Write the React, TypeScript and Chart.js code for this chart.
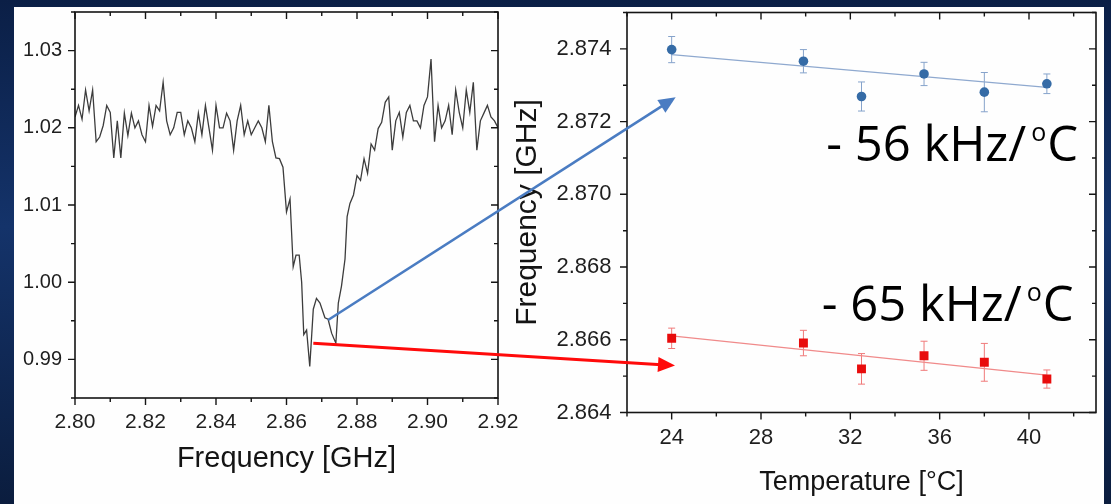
import React, { useEffect, useRef } from 'react';
import { Chart, registerables } from 'chart.js';

Chart.register(...registerables);

const AXIS_FONT = '"Liberation Sans", Arial, sans-serif';
const NOTE_FONT = '"Open Sans", "Noto Sans", sans-serif';

// ---------- Left panel: ODMR spectrum ----------
const specFreq = [
  2.800, 2.801, 2.802, 2.803, 2.804, 2.805, 2.806, 2.807, 2.808, 2.809,
  2.810, 2.811, 2.812, 2.813, 2.814, 2.815, 2.816, 2.817, 2.818, 2.819,
  2.820, 2.821, 2.822, 2.823, 2.824, 2.825, 2.826, 2.827, 2.828, 2.829,
  2.830, 2.831, 2.832, 2.833, 2.834, 2.835, 2.836, 2.837, 2.838, 2.839,
  2.840, 2.841, 2.842, 2.843, 2.844, 2.845, 2.846, 2.847, 2.848, 2.849,
  2.850, 2.851, 2.852, 2.853, 2.854, 2.855, 2.856, 2.857, 2.858, 2.859,
  2.860, 2.861,
  2.8619, 2.8627, 2.8636, 2.8643, 2.8649, 2.8657, 2.8666, 2.8676, 2.8685, 2.8695,
  2.8709, 2.8718, 2.8728, 2.8740, 2.8747, 2.8756, 2.8766, 2.8772,
  2.878, 2.879, 2.880, 2.881, 2.882, 2.883, 2.884, 2.885, 2.886, 2.887,
  2.888, 2.889, 2.890, 2.891, 2.892, 2.893, 2.894, 2.895, 2.896, 2.897,
  2.898, 2.899, 2.900, 2.901, 2.902, 2.903, 2.904, 2.905, 2.906, 2.907,
  2.908, 2.909, 2.910, 2.911, 2.912, 2.913, 2.914, 2.915, 2.916, 2.917,
  2.918, 2.919, 2.920,
];
const specSignal = [
  1.0214, 1.0229, 1.0211, 1.0249, 1.0222, 1.0249, 1.0182, 1.0188, 1.0203, 1.0229,
  1.0220, 1.0161, 1.0209, 1.0161, 1.0219, 1.0190, 1.0219, 1.0200, 1.0209, 1.0191,
  1.0182, 1.0229, 1.0202, 1.0229, 1.0222, 1.0259, 1.0209, 1.0191, 1.0200, 1.0220,
  1.0220, 1.0191, 1.0209, 1.0200, 1.0182, 1.0219, 1.0191, 1.0229, 1.0200, 1.0171,
  1.0229, 1.0200, 1.0200, 1.0219, 1.0209, 1.0171, 1.0209, 1.0229, 1.0191, 1.0209,
  1.0191, 1.0200, 1.0209, 1.0200, 1.0182, 1.0229, 1.0182, 1.0161, 1.0160, 1.0149,
  1.0091, 1.0108,
  1.0020, 1.0035, 1.0035, 1.0000, 0.9932, 0.9938, 0.9891, 0.9965, 0.9979, 0.9973,
  0.9954, 0.9952, 0.9934, 0.9921, 0.9973, 0.9995, 1.0030, 1.0085,
  1.0102, 1.0113, 1.0138, 1.0132, 1.0160, 1.0141, 1.0179, 1.0171, 1.0199, 1.0207,
  1.0233, 1.0240, 1.0171, 1.0209, 1.0220, 1.0188, 1.0220, 1.0229, 1.0209, 1.0209,
  1.0200, 1.0229, 1.0240, 1.0289, 1.0182, 1.0229, 1.0200, 1.0209, 1.0229, 1.0191,
  1.0249, 1.0220, 1.0200, 1.0249, 1.0220, 1.0259, 1.0171, 1.0209, 1.0219, 1.0229,
  1.0214, 1.0209, 1.0200,
];
const specXTicks = [2.80, 2.82, 2.84, 2.86, 2.88, 2.90, 2.92];
const specYTicks = [0.99, 1.00, 1.01, 1.02, 1.03];

// ---------- Right panel: frequency vs temperature ----------
const tempC = [24.0, 29.9, 32.5, 35.3, 38.0, 40.8];
const freqUpper = [2.87398, 2.87366, 2.87269, 2.87331, 2.87281, 2.87304];
const errUpper = [0.00036, 0.00032, 0.00040, 0.00032, 0.00054, 0.00027];
const freqLower = [2.86604, 2.86591, 2.86520, 2.86556, 2.86538, 2.86492];
const errLower = [0.00028, 0.00035, 0.00042, 0.00040, 0.00052, 0.00025];
const fitTemp = [24.0, 40.8];
const fitUpper = [2.87384, 2.87294];
const fitLower = [2.86611, 2.86503];
const tempXTicks = [24, 28, 32, 36, 40];
const tempYTicks = [2.864, 2.866, 2.868, 2.870, 2.872, 2.874];
const slopeText = ['- 56 kHz/', '- 65 kHz/'];

// arrows: from a point of the spectrum (left) to a point of the right plot
const arrowFrom = [[2.8718, 0.9951], [2.8676, 0.9921]];
const arrowTo = [[24.18, 2.87267], [24.15, 2.86529]];
const arrowColors = ['#4a7cc2', '#ff0a0a'];

function noPad(s: any) {
  s.paddingTop = 0;
  s.paddingBottom = 0;
  s.paddingLeft = 0;
  s.paddingRight = 0;
}

function frameTicks(xMinor: number, xMajor: number, yMinor: number, yMajor: number) {
  const isMajor = (v: number, m: number) => Math.abs(v / m - Math.round(v / m)) < 1e-6;
  return {
    id: 'frameTicks',
    afterDraw(chart: any) {
      const { ctx, chartArea: a, scales } = chart;
      const sx = scales.x;
      const sy = scales.y;
      ctx.save();
      ctx.strokeStyle = '#151515';
      ctx.lineWidth = 1.6;
      ctx.strokeRect(a.left, a.top, a.right - a.left, a.bottom - a.top);
      ctx.lineWidth = 1.4;
      ctx.beginPath();
      for (let k = Math.ceil(sx.min / xMinor - 1e-6); k * xMinor <= sx.max + 1e-9; k++) {
        const v = k * xMinor;
        const len = isMajor(v, xMajor) ? 7 : 4;
        const p = sx.getPixelForValue(v);
        ctx.moveTo(p, a.bottom);
        ctx.lineTo(p, a.bottom + len);
        ctx.moveTo(p, a.top);
        ctx.lineTo(p, a.top + len);
      }
      for (let k = Math.ceil(sy.min / yMinor - 1e-6); k * yMinor <= sy.max + 1e-9; k++) {
        const v = k * yMinor;
        const len = isMajor(v, yMajor) ? 7 : 4;
        const p = sy.getPixelForValue(v);
        ctx.moveTo(a.left, p);
        ctx.lineTo(a.left - len, p);
        ctx.moveTo(a.right, p);
        ctx.lineTo(a.right - len, p);
      }
      ctx.stroke();
      ctx.restore();
    },
  };
}

const errorBars = {
  id: 'errorBars',
  beforeDatasetsDraw(chart: any) {
    const { ctx, scales } = chart;
    const sets = [
      { v: freqUpper, e: errUpper, c: '#86a3cb' },
      { v: freqLower, e: errLower, c: '#f07a7a' },
    ];
    ctx.save();
    ctx.lineWidth = 1;
    sets.forEach((s) => {
      ctx.strokeStyle = s.c;
      ctx.beginPath();
      tempC.forEach((t, i) => {
        const x = scales.x.getPixelForValue(t);
        const y0 = scales.y.getPixelForValue(s.v[i] - s.e[i]);
        const y1 = scales.y.getPixelForValue(s.v[i] + s.e[i]);
        ctx.moveTo(x, y0);
        ctx.lineTo(x, y1);
        ctx.moveTo(x - 3.5, y0);
        ctx.lineTo(x + 3.5, y0);
        ctx.moveTo(x - 3.5, y1);
        ctx.lineTo(x + 3.5, y1);
      });
      ctx.stroke();
    });
    ctx.restore();
  },
};

const slopeNotes = {
  id: 'slopeNotes',
  afterDraw(chart: any) {
    const { ctx, scales } = chart;
    const anchors = [
      { x: 42.2, y: 2.87093 },
      { x: 42.0, y: 2.86652 },
    ];
    const size = 49;
    const supSize = 25;
    ctx.save();
    ctx.fillStyle = '#000';
    ctx.textBaseline = 'alphabetic';
    ctx.textAlign = 'left';
    slopeText.forEach((txt, i) => {
      const xr = scales.x.getPixelForValue(anchors[i].x);
      const yb = scales.y.getPixelForValue(anchors[i].y);
      ctx.font = `${size}px ${NOTE_FONT}`;
      const wMain = ctx.measureText(txt).width;
      const wTail = ctx.measureText('C').width;
      ctx.font = `${supSize}px ${NOTE_FONT}`;
      const wSup = ctx.measureText('o').width;
      const gapBefore = 5;
      const gapAfter = 1;
      let x = xr - (wMain + gapBefore + wSup + gapAfter + wTail);
      ctx.font = `${size}px ${NOTE_FONT}`;
      ctx.fillText(txt, x, yb);
      x += wMain + gapBefore;
      ctx.font = `${supSize}px ${NOTE_FONT}`;
      ctx.fillText('o', x, yb - 20);
      x += wSup + gapAfter;
      ctx.font = `${size}px ${NOTE_FONT}`;
      ctx.fillText('C', x, yb);
    });
    ctx.restore();
  },
};

function arrowPlugin(getLeft: () => any) {
  return {
    id: 'arrows',
    afterDraw(chart: any) {
      const left = getLeft();
      if (!left) return;
      const { ctx, scales } = chart;
      ctx.save();
      arrowFrom.forEach((s, i) => {
        const x0 = left.scales.x.getPixelForValue(s[0]);
        const y0 = left.scales.y.getPixelForValue(s[1]);
        const x1 = scales.x.getPixelForValue(arrowTo[i][0]);
        const y1 = scales.y.getPixelForValue(arrowTo[i][1]);
        const len = Math.hypot(x1 - x0, y1 - y0);
        const ux = (x1 - x0) / len;
        const uy = (y1 - y0) / len;
        const head = 17;
        const half = 7.5;
        ctx.strokeStyle = arrowColors[i];
        ctx.fillStyle = arrowColors[i];
        ctx.lineWidth = i === 0 ? 2.6 : 3;
        ctx.beginPath();
        ctx.moveTo(x0, y0);
        ctx.lineTo(x1 - ux * head * 0.8, y1 - uy * head * 0.8);
        ctx.stroke();
        const bx = x1 - ux * head;
        const by = y1 - uy * head;
        ctx.beginPath();
        ctx.moveTo(x1, y1);
        ctx.lineTo(bx - uy * half, by + ux * half);
        ctx.lineTo(bx + uy * half, by - ux * half);
        ctx.closePath();
        ctx.fill();
      });
      ctx.restore();
    },
  };
}

export default function App() {
  const leftRef = useRef<HTMLCanvasElement>(null);
  const rightRef = useRef<HTMLCanvasElement>(null);

  useEffect(() => {
    let leftChart: any = null;
    leftChart = new Chart(leftRef.current as HTMLCanvasElement, {
      type: 'scatter',
      data: {
        datasets: [
          {
            data: specFreq.map((f, i) => ({ x: f, y: specSignal[i] })),
            showLine: true,
            borderColor: '#3c3c3c',
            borderWidth: 1.3,
            pointRadius: 0,
            tension: 0,
          },
        ],
      },
      options: {
        animation: false,
        responsive: false,
        events: [],
        layout: { padding: { left: 0, right: 613, top: 12, bottom: 24 } },
        plugins: { legend: { display: false }, tooltip: { enabled: false } },
        scales: {
          x: {
            type: 'linear',
            min: 2.8,
            max: 2.92,
            grid: { display: false, drawTicks: false },
            border: { display: false },
            afterBuildTicks: (s: any) => {
              s.ticks = specXTicks.map((v) => ({ value: v }));
            },
            afterFit: (s: any) => {
              s.height = 82;
              noPad(s);
            },
            ticks: {
              padding: 12,
              autoSkip: false,
              maxRotation: 0,
              color: '#1e1e1e',
              font: { family: AXIS_FONT, size: 21 },
              callback: (v: any) => Number(v).toFixed(2),
            },
            title: {
              display: true,
              text: 'Frequency [GHz]',
              color: '#141414',
              font: { family: AXIS_FONT, size: 29 },
              padding: { top: 0, bottom: 4 },
            },
          },
          y: {
            type: 'linear',
            min: 0.985,
            max: 1.035,
            grid: { display: false, drawTicks: false },
            border: { display: false },
            afterBuildTicks: (s: any) => {
              s.ticks = specYTicks.map((v) => ({ value: v }));
            },
            afterFit: (s: any) => {
              s.width = 75;
              noPad(s);
            },
            ticks: {
              padding: 13,
              autoSkip: false,
              color: '#1e1e1e',
              font: { family: AXIS_FONT, size: 20, lineHeight: 1 },
              callback: (v: any) => Number(v).toFixed(2),
            },
          },
        },
      } as any,
      plugins: [frameTicks(0.01, 0.02, 0.005, 0.01)],
    });

    const rightChart = new Chart(rightRef.current as HTMLCanvasElement, {
      type: 'scatter',
      data: {
        datasets: [
          {
            data: tempC.map((t, i) => ({ x: t, y: freqUpper[i] })),
            pointStyle: 'circle',
            pointRadius: 4.8,
            backgroundColor: '#356ba6',
            borderColor: '#356ba6',
            borderWidth: 0,
          },
          {
            data: tempC.map((t, i) => ({ x: t, y: freqLower[i] })),
            pointStyle: 'rect',
            pointRadius: 6.3,
            backgroundColor: '#e80c0c',
            borderColor: '#e80c0c',
            borderWidth: 0,
          },
          {
            data: fitTemp.map((t, i) => ({ x: t, y: fitUpper[i] })),
            showLine: true,
            pointRadius: 0,
            borderColor: '#8fa9cf',
            borderWidth: 1.3,
          },
          {
            data: fitTemp.map((t, i) => ({ x: t, y: fitLower[i] })),
            showLine: true,
            pointRadius: 0,
            borderColor: '#f08a8a',
            borderWidth: 1.3,
          },
        ],
      },
      options: {
        animation: false,
        responsive: false,
        events: [],
        layout: { padding: { left: 510, right: 15, top: 12.5, bottom: 0 } },
        plugins: { legend: { display: false }, tooltip: { enabled: false } },
        scales: {
          x: {
            type: 'linear',
            min: 22,
            max: 43,
            grid: { display: false, drawTicks: false },
            border: { display: false },
            afterBuildTicks: (s: any) => {
              s.ticks = tempXTicks.map((v) => ({ value: v }));
            },
            afterFit: (s: any) => {
              s.height = 91.5;
              noPad(s);
            },
            ticks: {
              padding: 12,
              autoSkip: false,
              maxRotation: 0,
              color: '#1e1e1e',
              font: { family: AXIS_FONT, size: 22 },
              callback: (v: any) => String(v),
            },
            title: {
              display: true,
              text: 'Temperature [°C]',
              color: '#141414',
              font: { family: AXIS_FONT, size: 27 },
              padding: { top: 0, bottom: 5 },
            },
          },
          y: {
            type: 'linear',
            min: 2.864,
            max: 2.875,
            grid: { display: false, drawTicks: false },
            border: { display: false },
            afterBuildTicks: (s: any) => {
              s.ticks = tempYTicks.map((v) => ({ value: v }));
            },
            afterFit: (s: any) => {
              s.width = 117;
              noPad(s);
            },
            ticks: {
              padding: 15.5,
              autoSkip: false,
              color: '#1e1e1e',
              font: { family: AXIS_FONT, size: 22, lineHeight: 1 },
              callback: (v: any) => Number(v).toFixed(3),
            },
            title: {
              display: true,
              text: 'Frequency [GHz]',
              color: '#141414',
              font: { family: AXIS_FONT, size: 30 },
              padding: { top: 0, bottom: 0 },
            },
          },
        },
      } as any,
      plugins: [frameTicks(2, 4, 0.001, 0.002), errorBars, slopeNotes, arrowPlugin(() => leftChart)],
    });

    return () => {
      rightChart.destroy();
      leftChart.destroy();
    };
  }, []);

  return (
    <div
      style={{
        position: 'absolute',
        left: 0,
        top: 0,
        width: 1111,
        height: 504,
        overflow: 'hidden',
        background: 'linear-gradient(180deg, #0b1f46 0%, #14336a 45%, #0b1d3e 100%)',
      }}
    >
      <div style={{ position: 'absolute', left: 14, top: 7, width: 1090, height: 497, background: '#fefefe' }} />
      <canvas ref={leftRef} width={1111} height={504} style={{ position: 'absolute', left: 0, top: 0 }} />
      <canvas ref={rightRef} width={1111} height={504} style={{ position: 'absolute', left: 0, top: 0 }} />
    </div>
  );
}
